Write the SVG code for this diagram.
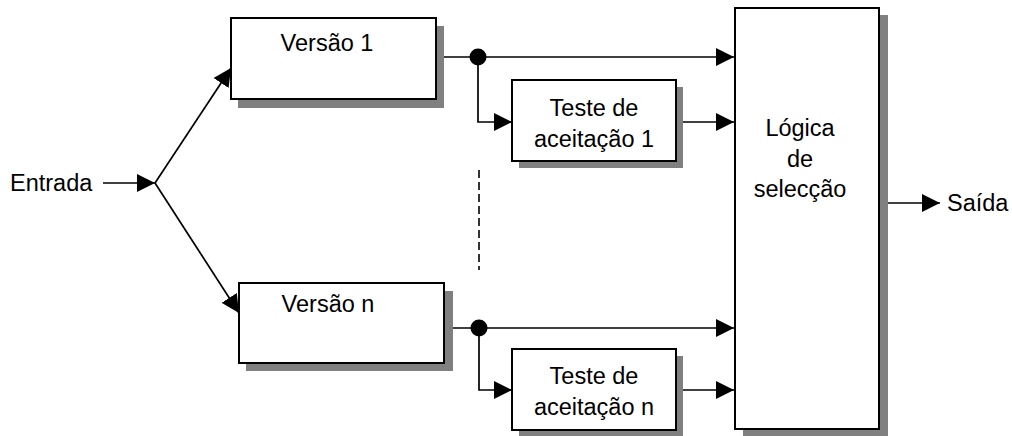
<svg xmlns="http://www.w3.org/2000/svg" width="1012" height="436" viewBox="0 0 1012 436">
  <defs>
    <style>
      .box { fill: #ffffff; stroke: #000000; stroke-width: 2; }
      .shadow { fill: #808080; }
      .wire { fill: none; stroke: #000000; stroke-width: 1.7; }
      .label { font-family: "Liberation Sans", Arial, sans-serif; font-size: 23.5px; fill: #000000; }
      .mid { text-anchor: middle; }
    </style>
    <marker id="arrow" viewBox="0 0 18 18" refX="18" refY="9" markerWidth="18" markerHeight="18" markerUnits="userSpaceOnUse" orient="auto">
      <path d="M0,0 L18,9 L0,18 Z" fill="#000000"/>
    </marker>
  </defs>

  <rect width="1012" height="436" fill="#ffffff"/>

  <!-- connectors -->
  <g id="connectors">
    <line class="wire" x1="103" y1="183" x2="155" y2="183" marker-end="url(#arrow)"/>
    <line class="wire" x1="155" y1="183" x2="231" y2="68" marker-end="url(#arrow)"/>
    <line class="wire" x1="155" y1="183" x2="239" y2="313" marker-end="url(#arrow)"/>

    <!-- version 1 paths -->
    <line class="wire" x1="436" y1="57" x2="734" y2="57" marker-end="url(#arrow)"/>
    <polyline class="wire" points="478,57 478,122 512,122" marker-end="url(#arrow)"/>
    <line class="wire" x1="676" y1="122" x2="734" y2="122" marker-end="url(#arrow)"/>
    <circle cx="478" cy="57" r="8.5" fill="#000000"/>

    <!-- version n paths -->
    <line class="wire" x1="444" y1="328" x2="734" y2="328" marker-end="url(#arrow)"/>
    <polyline class="wire" points="479,328 479,390 512,390" marker-end="url(#arrow)"/>
    <line class="wire" x1="676" y1="390" x2="734" y2="390" marker-end="url(#arrow)"/>
    <circle cx="479" cy="328" r="8.5" fill="#000000"/>

    <!-- ellipsis between the versions -->
    <line x1="479" y1="170" x2="479" y2="270" stroke="#333333" stroke-width="2" stroke-dasharray="8 4"/>

    <!-- output -->
    <line class="wire" x1="879" y1="203" x2="940" y2="203" marker-end="url(#arrow)"/>
  </g>

  <!-- input / output labels -->
  <g id="entrada">
    <text class="label" x="10" y="191">Entrada</text>
  </g>
  <g id="saida">
    <text class="label" x="947" y="211">Saída</text>
  </g>

  <g id="versao1">
    <rect class="shadow" x="238" y="26" width="206" height="82"/>
    <rect class="box" x="231" y="18" width="205" height="81"/>
    <text class="label mid" x="327" y="51">Versão 1</text>
  </g>

  <g id="teste1">
    <rect class="shadow" x="519" y="87" width="164" height="81"/>
    <rect class="box" x="512" y="80" width="164" height="81"/>
    <text class="label mid" x="594" y="116">Teste de</text>
    <text class="label mid" x="594" y="147">aceitação 1</text>
  </g>

  <g id="versaon">
    <rect class="shadow" x="246" y="291" width="207" height="80"/>
    <rect class="box" x="239" y="283" width="205" height="80"/>
    <text class="label mid" x="328" y="312">Versão n</text>
  </g>

  <g id="testen">
    <rect class="shadow" x="519" y="356" width="164" height="81"/>
    <rect class="box" x="512" y="349" width="164" height="81"/>
    <text class="label mid" x="594" y="384">Teste de</text>
    <text class="label mid" x="594" y="415">aceitação n</text>
  </g>

  <g id="selecao">
    <rect class="shadow" x="743" y="15" width="145" height="421"/>
    <rect class="box" x="735" y="8" width="144" height="421"/>
    <text class="label mid" x="800" y="136">Lógica</text>
    <text class="label mid" x="800" y="167">de</text>
    <text class="label mid" x="800" y="197">selecção</text>
  </g>
</svg>
